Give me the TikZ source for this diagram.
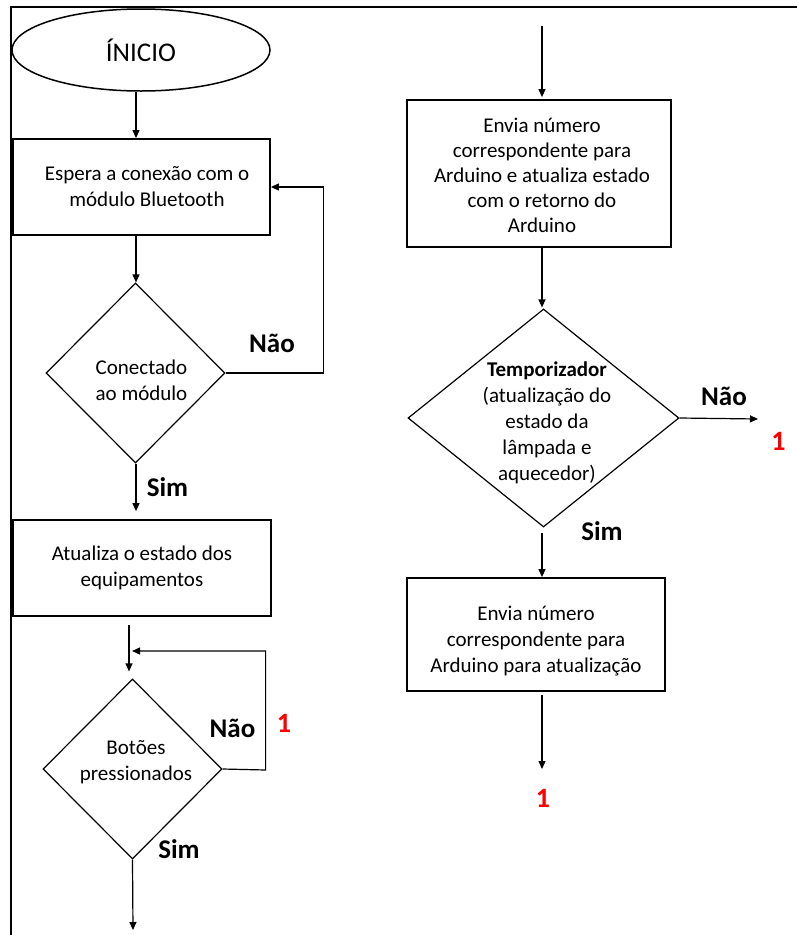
\documentclass[tikz,border=0pt]{standalone}
\usepackage{fontspec}
\setmainfont{Carlito}
\usetikzlibrary{shapes.geometric,arrows.meta,calc}
\begin{document}
\begin{tikzpicture}[x=1pt,y=-1pt,
  box/.style={draw, line width=1.8pt, rectangle, inner sep=0pt, align=center, font=\fontsize{21}{26}\selectfont},
  dia/.style={draw, line width=1.2pt, diamond, inner sep=0pt},
  txt/.style={align=center, font=\fontsize{21}{26}\selectfont, inner sep=0pt},
  lbl/.style={font=\bfseries\fontsize{27}{32}\selectfont, inner sep=0pt},
  redone/.style={font=\bfseries\fontsize{28}{32}\selectfont, text=red, inner sep=0pt},
  arr/.style={line width=1.2pt, -{Triangle[length=8pt,width=7pt]}},
]
\useasboundingbox (0,0) rectangle (797,935);
% frame
\draw[line width=2pt] (10.5,935) -- (10.5,7) -- (797,7);

% left column
\node[draw, ellipse, line width=1.5pt, minimum width=258pt, minimum height=82pt, inner sep=0pt,
      font=\fontsize{27}{32}\selectfont] (start) at (141,50) {ÍNICIO};
\node[box, minimum width=257pt, minimum height=96pt] (b1) at (141.5,187)
  {\hspace*{11pt}Espera a conexão com o\\\hspace*{11pt}módulo Bluetooth};
\node[dia, minimum width=179pt, minimum height=180pt] (d1) at (135.5,373) {};
\node[txt] (t1) at (141.5,380) {Conectado\\ao módulo};
\node[box, minimum width=258pt, minimum height=96pt] (b2) at (142,568)
  {Atualiza o estado dos\\equipamentos};
\node[dia, minimum width=179pt, minimum height=180pt] (d2) at (132.5,769) {};
\node[txt] (t2) at (136,762) {Botões\\pressionados};

\node[lbl] (nao1) at (272,343) {Não};
\node[lbl] (sim1) at (167.5,487) {Sim};
\node[lbl] (nao2) at (232.5,728) {Não};
\node[redone] (one1) at (284,723) {1};
\node[lbl] (sim2) at (179,849) {Sim};

\coordinate (lx) at (136,0);
\coordinate (lx2) at (129,0);
\coordinate (j2) at (132,651);
\coordinate (e2) at (133,930);

\draw[arr] (start.south -| lx) -- (b1.north -| lx);
\draw[arr] (b1.south -| lx) -- (d1.north -| lx);
\draw[arr] (d1.east) -- ++(98,0) |- (b1.east);
\draw[arr, shorten >=8pt] (d1.south -| lx) -- (b2.north -| lx);
\draw[arr, shorten <=8pt, shorten >=7pt] (b2.south -| lx2) -- (d2.north -| lx2);
\draw[arr] (d2.east) -- ++(43,1) |- (j2);
\draw[arr] (d2.south) -- (e2);

% right column
\node[box, minimum width=264pt, minimum height=147pt] (b3) at (539,173.5) {};
\node[txt, font=\fontsize{21}{25}\selectfont] (t3a) at (542,175)
  {Envia número\\correspondente para\\Arduino e atualiza estado\\com o retorno do\\Arduino};
\node[dia, minimum width=271pt, minimum height=218pt] (d3) at (543.5,418) {};
\node[txt] (t3) at (547,423) {\textbf{Temporizador}\\(atualização do\\estado da\\lâmpada e\\aquecedor)};
\node[box, minimum width=258pt, minimum height=113pt] (b4) at (536,634.5) {};
\node[txt] (t4) at (536,641) {Envia número\\correspondente para\\Arduino para atualização};

\node[lbl] (nao3) at (724,396) {Não};
\node[redone] (one3) at (778.5,441) {1};
\node[lbl] (sim3) at (602,531) {Sim};
\node[redone] (one4) at (543,798) {1};

\coordinate (s3) at (542,26);
\coordinate (rx) at (542,0);
\coordinate (n3) at (758,419);
\coordinate (e4) at (542,769);

\draw[arr, shorten >=2pt] (s3) -- (b3.north -| s3);
\draw[arr, shorten >=1pt] (b3.south -| rx) -- (d3.north -| rx);
\draw[arr] (d3.east) -- (n3);
\draw[arr, shorten <=5pt] (d3.south -| rx) -- (b4.north -| rx);
\draw[arr, shorten <=3pt] (b4.south -| rx) -- (e4);
\end{tikzpicture}
\end{document}
